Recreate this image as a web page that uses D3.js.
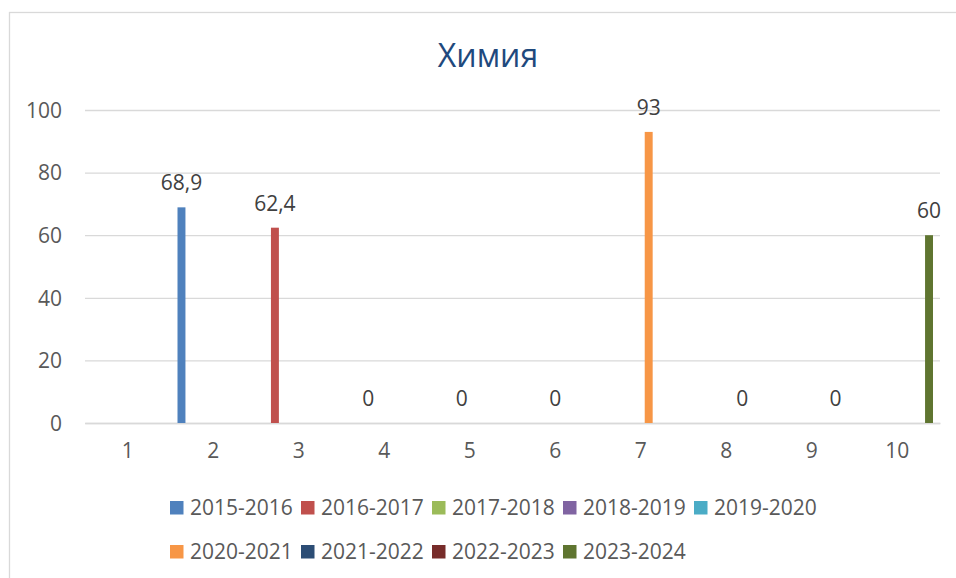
<!DOCTYPE html>
<html>
<head>
<meta charset="utf-8">
<script src="https://cdn.jsdelivr.net/npm/d3@7"></script>
<style>
  html, body { margin: 0; padding: 0; background: #fff; }
  svg { display: block; font-family: "Open Sans", "DejaVu Sans", sans-serif; }
</style>
</head>
<body>
<svg id="chart" width="956" height="578"></svg>
<script>
const title = "Химия";
const categories = ["1", "2", "3", "4", "5", "6", "7", "8", "9", "10"];
const seriesNames = ["2015-2016", "2016-2017", "2017-2018", "2018-2019", "2019-2020",
                     "2020-2021", "2021-2022", "2022-2023", "2023-2024"];
const seriesColors = ["#4F81BD", "#C0504D", "#9BBB59", "#8064A2", "#4BACC6",
                      "#F79646", "#2C4D75", "#772C2A", "#5F7530"];
// each series has one value, placed at the category listed in seriesCategory
const seriesCategory = ["2", "3", "4", "5", "6", "7", "8", "9", "10"];
const seriesValues = [68.9, 62.4, 0, 0, 0, 93, 0, 0, 60];
const yTicks = [0, 20, 40, 60, 80, 100];

const svg = d3.select("#chart");
const textColor = "#595959";
const gridColor = "#D9D9D9";

// chart border
svg.append("rect")
  .attr("x", 9.5).attr("y", 12.5)
  .attr("width", 980).attr("height", 620)
  .attr("fill", "#fff").attr("stroke", gridColor).attr("stroke-width", 1.3);

const plot = { left: 85, right: 940, top: 110, bottom: 423 };

const x0 = d3.scaleBand().domain(categories).range([plot.left, plot.right]).padding(0);
const innerPad = 7;
const x1 = d3.scaleBand().domain(seriesNames)
  .range([innerPad, x0.bandwidth() - innerPad]).padding(0);
const y = d3.scaleLinear().domain([0, 100]).range([plot.bottom, plot.top]);

// title
svg.append("text")
  .attr("x", 488).attr("y", 67)
  .attr("text-anchor", "middle")
  .attr("font-size", 32)
  .attr("fill", "#1F497D")
  .text(title);

// gridlines + y labels
const yAxis = d3.axisLeft(y).tickValues(yTicks).tickSize(-(plot.right - plot.left)).tickPadding(23).tickFormat(d3.format("d"));
const gy = svg.append("g").attr("transform", `translate(${plot.left},0)`).call(yAxis);
gy.select(".domain").remove();
gy.selectAll(".tick line").attr("stroke", gridColor).attr("stroke-width", 1.3);
gy.selectAll(".tick text").attr("fill", textColor).attr("font-size", 21)
  .attr("font-family", "Open Sans").attr("dy", "0.35em");

// x axis
const xAxis = d3.axisBottom(x0).tickSize(0).tickPadding(20);
const gx = svg.append("g").attr("transform", `translate(0,${plot.bottom})`).call(xAxis);
gx.select(".domain").attr("stroke", gridColor).attr("stroke-width", 1.3);
gx.selectAll(".tick text").attr("fill", textColor).attr("font-size", 21)
  .attr("font-family", "Open Sans").attr("dy", "0.71em");

// bars
const data = seriesNames.map((s, i) => ({ s, cat: seriesCategory[i], v: seriesValues[i], c: seriesColors[i] }));
svg.append("g").selectAll("rect").data(data).join("rect")
  .attr("x", d => x0(d.cat) + x1(d.s))
  .attr("y", d => y(d.v))
  .attr("width", x1.bandwidth())
  .attr("height", d => y(0) - y(d.v))
  .attr("fill", d => d.c);

// data labels
const fmt = v => String(v).replace(".", ",");
svg.append("g").selectAll("text").data(data).join("text")
  .attr("x", d => x0(d.cat) + x1(d.s) + x1.bandwidth() / 2)
  .attr("y", d => y(d.v) - 17)
  .attr("text-anchor", "middle")
  .attr("font-size", 21)
  .attr("fill", "#404040")
  .text(d => fmt(d.v));

// legend
const perRow = 5, pitch = 131, legX = 170, rowY = [508, 552];
const leg = svg.append("g").selectAll("g").data(data).join("g")
  .attr("transform", (d, i) => `translate(${legX + (i % perRow) * pitch},${rowY[Math.floor(i / perRow)]})`);
leg.append("rect").attr("x", 0).attr("y", -7).attr("width", 13.5).attr("height", 13.5).attr("fill", d => d.c);
leg.append("text").attr("x", 20).attr("y", 0).attr("dy", "0.35em")
  .attr("font-size", 21).attr("fill", textColor).text(d => d.s);
</script>
</body>
</html>
